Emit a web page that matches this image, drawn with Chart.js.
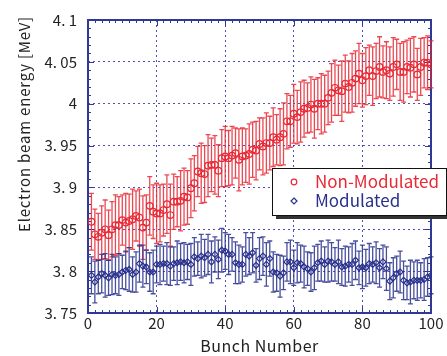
<!DOCTYPE html>
<html lang="en">
  <head>
    <meta charset="UTF-8" />
    <title>Electron beam energy vs bunch number</title>
    <script src="https://cdn.jsdelivr.net/npm/chart.js"></script>
    <style>
      body { margin: 0; background: #fff; }
      canvas { display: block; }
    </style>
  </head>
  <body>
    <canvas id="energyChart" width="447" height="356"></canvas>

    <script>
      // Electron beam energy [MeV] per bunch
      const nonModulated = [
        3.859, 3.844, 3.841, 3.846, 3.850, 3.843, 3.850, 3.855, 3.855, 3.861,
        3.858, 3.860, 3.862, 3.866, 3.864, 3.852, 3.858, 3.878, 3.871, 3.869,
        3.869, 3.873, 3.880, 3.867, 3.883, 3.883, 3.884, 3.889, 3.888, 3.899,
        3.905, 3.919, 3.917, 3.916, 3.926, 3.927, 3.927, 3.920, 3.935, 3.937,
        3.935, 3.938, 3.941, 3.933, 3.937, 3.938, 3.940, 3.945, 3.944, 3.952,
        3.949, 3.953, 3.953, 3.960, 3.957, 3.960, 3.964, 3.979, 3.979, 3.988,
        3.984, 3.990, 3.994, 3.995, 3.999, 3.994, 4.000, 4.000, 4.000, 4.007,
        4.013, 4.019, 4.016, 4.015, 4.024, 4.020, 4.025, 4.030, 4.036, 4.028,
        4.033, 4.040, 4.033, 4.039, 4.044, 4.038, 4.040, 4.036, 4.044, 4.047,
        4.038, 4.038, 4.044, 4.043, 4.047, 4.035, 4.044, 4.049, 4.049, 4.047
      ];
      const nonModulatedErr = [
        0.034, 0.030, 0.028, 0.032, 0.035, 0.030, 0.033, 0.036, 0.034, 0.030,
        0.035, 0.032, 0.036, 0.030, 0.034, 0.038, 0.033, 0.035, 0.032, 0.036,
        0.034, 0.031, 0.035, 0.037, 0.033, 0.030, 0.036, 0.034, 0.032, 0.035,
        0.033, 0.030, 0.036, 0.034, 0.037, 0.032, 0.035, 0.031, 0.034, 0.036,
        0.033, 0.035, 0.030, 0.037, 0.034, 0.032, 0.036, 0.033, 0.035, 0.031,
        0.034, 0.036, 0.032, 0.035, 0.030, 0.034, 0.037, 0.033, 0.031, 0.035,
        0.032, 0.036, 0.034, 0.030, 0.033, 0.035, 0.031, 0.036, 0.034, 0.032,
        0.035, 0.033, 0.030, 0.036, 0.034, 0.031, 0.035, 0.033, 0.036, 0.032,
        0.034, 0.030, 0.035, 0.033, 0.036, 0.031, 0.034, 0.032, 0.035, 0.030,
        0.034, 0.036, 0.032, 0.035, 0.033, 0.031, 0.034, 0.030, 0.032, 0.028
      ];
      const modulated = [
        3.795, 3.787, 3.793, 3.797, 3.795, 3.792, 3.796, 3.795, 3.796, 3.799,
        3.801, 3.802, 3.796, 3.799, 3.809, 3.806, 3.805, 3.799, 3.799, 3.808,
        3.808, 3.809, 3.809, 3.806, 3.809, 3.810, 3.811, 3.810, 3.811, 3.808,
        3.817, 3.815, 3.818, 3.816, 3.820, 3.811, 3.820, 3.814, 3.825, 3.824,
        3.820, 3.820, 3.810, 3.808, 3.808, 3.820, 3.818, 3.822, 3.807, 3.815,
        3.818, 3.808, 3.815, 3.799, 3.798, 3.794, 3.798, 3.811, 3.811, 3.804,
        3.810, 3.809, 3.805, 3.803, 3.799, 3.804, 3.810, 3.812, 3.808, 3.812,
        3.811, 3.808, 3.811, 3.805, 3.806, 3.808, 3.808, 3.813, 3.804, 3.805,
        3.804, 3.809, 3.808, 3.810, 3.804, 3.811, 3.803, 3.788, 3.792, 3.797,
        3.799, 3.789, 3.786, 3.787, 3.789, 3.789, 3.789, 3.790, 3.793, 3.795
      ];
      const modulatedErr = [
        0.022, 0.025, 0.020, 0.023, 0.026, 0.021, 0.024, 0.022, 0.025, 0.020,
        0.023, 0.026, 0.021, 0.024, 0.022, 0.025, 0.020, 0.023, 0.026, 0.022,
        0.024, 0.021, 0.025, 0.023, 0.020, 0.026, 0.022, 0.024, 0.021, 0.025,
        0.023, 0.020, 0.026, 0.022, 0.024, 0.025, 0.021, 0.023, 0.026, 0.022,
        0.024, 0.020, 0.025, 0.023, 0.021, 0.026, 0.022, 0.024, 0.020, 0.025,
        0.023, 0.026, 0.021, 0.024, 0.022, 0.025, 0.020, 0.023, 0.026, 0.021,
        0.024, 0.022, 0.025, 0.020, 0.023, 0.026, 0.022, 0.024, 0.021, 0.025,
        0.023, 0.020, 0.026, 0.022, 0.024, 0.021, 0.025, 0.023, 0.020, 0.026,
        0.022, 0.024, 0.021, 0.025, 0.023, 0.020, 0.026, 0.022, 0.024, 0.021,
        0.025, 0.023, 0.020, 0.026, 0.022, 0.024, 0.021, 0.025, 0.023, 0.022
      ];
      const bunchNumbers = nonModulated.map((_, i) => i + 1);

      const seriesLabels = ["Non-Modulated", "Modulated"];
      const xTitle = "Bunch Number";
      const yTitle = "Electron beam energy [MeV]";

      const RED = "rgb(232, 40, 52)";
      const BLUE = "rgb(40, 48, 140)";
      const FRAME = "rgb(48, 56, 150)";
      const FONT = '"Noto Sans CJK JP", "Noto Sans", sans-serif';

      // error bars, frame, minor ticks, titles and legend
      const errorBars = {
        id: "errorBars",
        beforeDatasetsDraw(chart) {
          const { ctx, chartArea: a, scales: { x, y } } = chart;

          // frame + ticks
          ctx.save();
          ctx.strokeStyle = FRAME;
          ctx.lineWidth = 1;
          for (let v = 3.75; v <= 4.1001; v += 0.01) {
            const py = Math.round(y.getPixelForValue(v)) + 0.5;
            const major = Math.abs(Math.round(v * 20) - v * 20) < 1e-6;
            const len = major ? 6 : 3;
            ctx.beginPath();
            ctx.moveTo(a.left, py); ctx.lineTo(a.left + len, py);
            ctx.moveTo(a.right, py); ctx.lineTo(a.right - len, py);
            ctx.stroke();
          }
          for (let v = 0; v <= 100; v += 2) {
            const px = Math.round(x.getPixelForValue(v)) + 0.5;
            const len = v % 20 === 0 ? 6 : 3;
            ctx.beginPath();
            ctx.moveTo(px, a.bottom); ctx.lineTo(px, a.bottom - len);
            ctx.moveTo(px, a.top); ctx.lineTo(px, a.top + len);
            ctx.stroke();
          }
          ctx.lineWidth = 2;
          ctx.strokeRect(a.left, a.top, a.right - a.left, a.bottom - a.top);
          ctx.restore();

          chart.data.datasets.forEach((ds) => {
            ctx.save();
            ctx.strokeStyle = ds.errColor;
            ctx.lineWidth = 1.3;
            ds.data.forEach((p, i) => {
              const px = x.getPixelForValue(p.x);
              const top = y.getPixelForValue(p.y + ds.errors[i]);
              const bot = y.getPixelForValue(p.y - ds.errors[i]);
              ctx.beginPath();
              ctx.moveTo(px, top); ctx.lineTo(px, bot);
              ctx.moveTo(px - 2.5, top); ctx.lineTo(px + 2.5, top);
              ctx.moveTo(px - 2.5, bot); ctx.lineTo(px + 2.5, bot);
              ctx.stroke();
            });
            ctx.restore();
          });
        },
        afterDraw(chart) {
          const { ctx, chartArea: a } = chart;
          ctx.save();
          ctx.fillStyle = "#222";
          ctx.textAlign = "center";
          ctx.textBaseline = "middle";
          ctx.font = "16px " + FONT;
          ctx.letterSpacing = "0.5px";
          ctx.fillText(xTitle, (a.left + a.right) / 2, 346);
          ctx.translate(24, 124);
          ctx.rotate(-Math.PI / 2);
          ctx.font = "15px " + FONT;
          ctx.letterSpacing = "0.8px";
          ctx.fillText(yTitle, 0, 0);
          ctx.restore();

          // legend box with shadow
          const bx = 272, by = 168, bw = 174, bh = 47;
          ctx.save();
          ctx.fillStyle = "#333";
          ctx.fillRect(bx + 4, by + 4, bw, bh);
          ctx.fillStyle = "#fff";
          ctx.fillRect(bx, by, bw, bh);
          ctx.strokeStyle = "#111";
          ctx.lineWidth = 1;
          ctx.strokeRect(bx + 0.5, by + 0.5, bw, bh);
          ctx.font = "17px " + FONT;
          ctx.textBaseline = "middle";
          ctx.lineWidth = 1.2;
          // red circle
          ctx.strokeStyle = RED;
          ctx.beginPath();
          ctx.arc(294, 182, 2.8, 0, Math.PI * 2);
          ctx.stroke();
          ctx.fillStyle = RED;
          ctx.fillText(seriesLabels[0], 315, 182);
          // blue diamond
          ctx.strokeStyle = BLUE;
          ctx.beginPath();
          ctx.moveTo(294, 198); ctx.lineTo(297, 201); ctx.lineTo(294, 204); ctx.lineTo(291, 201);
          ctx.closePath();
          ctx.stroke();
          ctx.fillStyle = BLUE;
          ctx.fillText(seriesLabels[1], 315, 201);
          ctx.restore();
        }
      };

      const tickFmt = (v) => String(+v.toFixed(2)).replace(".", ". ");

      new Chart(document.getElementById("energyChart"), {
        type: "scatter",
        data: {
          datasets: [
            {
              label: seriesLabels[0],
              data: bunchNumbers.map((b, i) => ({ x: b, y: nonModulated[i] })),
              errors: nonModulatedErr,
              errColor: "rgba(232, 40, 52, 0.85)",
              pointStyle: "circle",
              pointRadius: 3.3,
              borderColor: RED,
              borderWidth: 1.2,
              backgroundColor: "transparent"
            },
            {
              label: seriesLabels[1],
              data: bunchNumbers.map((b, i) => ({ x: b, y: modulated[i] })),
              errors: modulatedErr,
              errColor: "rgba(40, 48, 140, 0.85)",
              pointStyle: "rectRot",
              pointRadius: 3,
              borderColor: BLUE,
              borderWidth: 1.2,
              backgroundColor: "transparent"
            }
          ]
        },
        options: {
          responsive: false,
          animation: false,
          layout: { padding: { left: 0, right: 16, top: 16, bottom: 0 } },
          plugins: { legend: { display: false }, tooltip: { enabled: false } },
          scales: {
            x: {
              min: 0,
              max: 100,
              afterFit: (s) => { s.height = 43; },
              border: { display: false, dash: [2, 3] },
              grid: { color: "rgba(50, 50, 170, 0.85)", drawTicks: false },
              ticks: {
                stepSize: 20,
                padding: 1,
                color: "#222",
                font: { family: FONT, size: 15 },
                maxRotation: 0
              }
            },
            y: {
              min: 3.75,
              max: 4.1,
              afterFit: (s) => { s.width = 88; },
              border: { display: false, dash: [2, 3] },
              grid: { color: "rgba(50, 50, 170, 0.85)", drawTicks: false },
              ticks: {
                stepSize: 0.05,
                padding: 11,
                color: "#222",
                font: { family: FONT, size: 15 },
                callback: tickFmt
              }
            }
          }
        },
        plugins: [errorBars]
      });
    </script>
  </body>
</html>
